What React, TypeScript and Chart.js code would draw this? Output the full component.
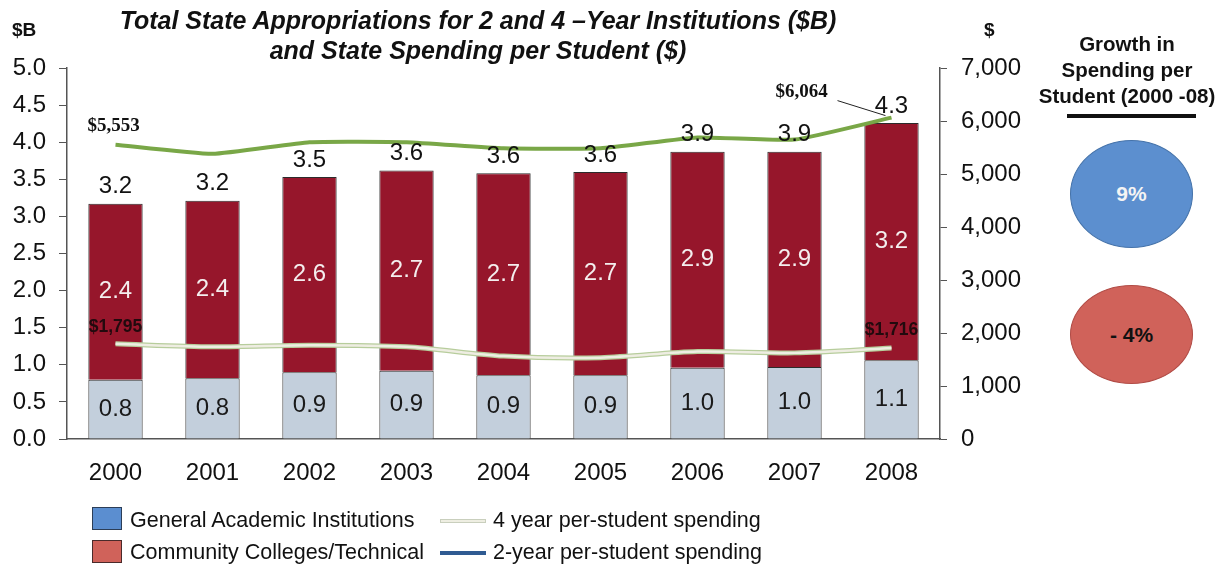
import React, { useEffect, useRef } from "react";
import { Chart, registerables } from "chart.js";

Chart.register(...registerables);

const years = ["2000", "2001", "2002", "2003", "2004", "2005", "2006", "2007", "2008"];
const generalAcademic = [0.8, 0.82, 0.9, 0.92, 0.86, 0.86, 0.96, 0.97, 1.06];
const communityColleges = [2.37, 2.39, 2.63, 2.7, 2.72, 2.74, 2.91, 2.9, 3.2];
const fourYearPerStudent = [1795, 1742, 1770, 1740, 1565, 1535, 1650, 1625, 1716];
const twoYearPerStudent = [5553, 5380, 5600, 5600, 5485, 5485, 5690, 5650, 6064];
const leftTicks = [0, 0.5, 1, 1.5, 2, 2.5, 3, 3.5, 4, 4.5, 5];
const rightTicks = [0, 1000, 2000, 3000, 4000, 5000, 6000, 7000];
const growthLabels = ["9%", "- 4%"];

const fmtMoney = (v: number) => "$" + v.toLocaleString("en-US");

const labelPlugin = {
  id: "labels",
  afterDatasetsDraw(chart: any) {
    const ctx = chart.ctx;
    const ga = chart.getDatasetMeta(0);
    const cc = chart.getDatasetMeta(1);
    const two = chart.getDatasetMeta(2);
    const four = chart.getDatasetMeta(4);
    const yL = chart.scales.y;
    ctx.save();
    ctx.textAlign = "center";
    ctx.textBaseline = "middle";
    ctx.font = "24px Arial, 'Liberation Sans', sans-serif";
    years.forEach((_, i) => {
      const gb = ga.data[i];
      const cb = cc.data[i];
      ctx.fillStyle = "#1a1a1a";
      ctx.fillText(generalAcademic[i].toFixed(1), gb.x, (gb.y + gb.base) / 2);
      ctx.fillStyle = "#f4eeee";
      ctx.fillText(communityColleges[i].toFixed(1), cb.x, (cb.y + cb.base) / 2);
      const total = generalAcademic[i] + communityColleges[i];
      ctx.fillStyle = "#111";
      ctx.fillText(total.toFixed(1), cb.x, yL.getPixelForValue(total) - 17);
    });
    // line end labels
    const p0 = two.data[0];
    const p8 = two.data[8];
    ctx.font = "bold 19px 'Liberation Serif', 'Times New Roman', serif";
    ctx.fillStyle = "#111";
    ctx.fillText(fmtMoney(twoYearPerStudent[0]), p0.x - 2, p0.y - 19);
    ctx.fillText(fmtMoney(twoYearPerStudent[8]), p8.x - 90, p8.y - 26);
    ctx.strokeStyle = "#222";
    ctx.lineWidth = 1;
    ctx.beginPath();
    ctx.moveTo(p8.x - 54, p8.y - 17);
    ctx.lineTo(p8.x - 6, p8.y - 2);
    ctx.stroke();
    const f0 = four.data[0];
    const f8 = four.data[8];
    ctx.font = "bold 17.5px Arial, 'Liberation Sans', sans-serif";
    ctx.fillStyle = "#220a0e";
    ctx.fillText(fmtMoney(fourYearPerStudent[0]), f0.x, f0.y - 17);
    ctx.fillText(fmtMoney(fourYearPerStudent[8]), f8.x, f8.y - 18);
    ctx.restore();
  },
};

export default function App() {
  const ref = useRef<HTMLCanvasElement | null>(null);
  useEffect(() => {
    if (!ref.current) return;
    const chart = new Chart(ref.current, {
      type: "bar",
      data: {
        labels: years,
        datasets: [
          {
            type: "bar",
            label: "General Academic Institutions",
            data: generalAcademic,
            backgroundColor: "#c3cfdc",
            borderColor: "#2b2b2b",
            borderWidth: 1,
            yAxisID: "y",
            stack: "s",
            order: 3,
            barPercentage: 0.56,
            categoryPercentage: 1,
          },
          {
            type: "bar",
            label: "Community Colleges/Technical",
            data: communityColleges,
            backgroundColor: "#96162b",
            borderColor: "#2b2b2b",
            borderWidth: 1,
            yAxisID: "y",
            stack: "s",
            order: 3,
            barPercentage: 0.56,
            categoryPercentage: 1,
          },
          {
            type: "line",
            label: "2-year per-student spending",
            data: twoYearPerStudent,
            borderColor: "#79a747",
            borderWidth: 4,
            pointRadius: 0,
            tension: 0.15,
            yAxisID: "y1",
            order: 1,
          },
          {
            type: "line",
            label: "4 year outline",
            data: fourYearPerStudent,
            borderColor: "#b7cd9c",
            borderWidth: 5,
            pointRadius: 0,
            tension: 0.3,
            yAxisID: "y1",
            order: 2,
          },
          {
            type: "line",
            label: "4 year per-student spending",
            data: fourYearPerStudent,
            borderColor: "#eeede2",
            borderWidth: 2.5,
            pointRadius: 0,
            tension: 0.3,
            yAxisID: "y1",
            order: 1,
          },
        ],
      },
      options: {
        animation: false,
        responsive: false,
        layout: { padding: { left: 0, right: 0, top: 68, bottom: 0 } },
        plugins: {
          legend: { display: false },
          tooltip: { enabled: false },
          title: { display: false },
        },
        scales: {
          x: {
            stacked: true,
            grid: { display: false, drawTicks: false },
            border: { display: true, color: "#555", width: 1.5 },
            ticks: {
              color: "#111",
              padding: 20,
              font: { size: 24, family: "Arial, 'Liberation Sans', sans-serif" },
            },
            afterFit: (s: any) => {
              s.height = 567 - 439;
            },
          },
          y: {
            stacked: true,
            position: "left",
            min: 0,
            max: 5,
            afterBuildTicks: (s: any) => {
              s.ticks = leftTicks.map((v) => ({ value: v }));
            },
            grid: { display: true, drawOnChartArea: false, tickLength: 8, color: "#555" },
            border: { display: true, color: "#555", width: 1.5 },
            ticks: {
              color: "#111",
              padding: 13,
              font: { size: 24, family: "Arial, 'Liberation Sans', sans-serif" },
              callback: (v: any) => Number(v).toFixed(1),
            },
            afterFit: (s: any) => {
              s.width = 67;
            },
          },
          y1: {
            position: "right",
            min: 0,
            max: 7000,
            afterBuildTicks: (s: any) => {
              s.ticks = rightTicks.map((v) => ({ value: v }));
            },
            grid: { display: true, drawOnChartArea: false, tickLength: 7, color: "#555" },
            border: { display: true, color: "#555", width: 1.5 },
            ticks: {
              color: "#111",
              padding: 14,
              font: { size: 24, family: "Arial, 'Liberation Sans', sans-serif" },
              callback: (v: any) => Number(v).toLocaleString("en-US"),
            },
            afterFit: (s: any) => {
              s.width = 1230 - 940;
            },
          },
        },
      },
      plugins: [labelPlugin],
    });
    return () => chart.destroy();
  }, []);

  const font = "Arial, 'Liberation Sans', sans-serif";
  const abs = (s: React.CSSProperties): React.CSSProperties => ({ position: "absolute", ...s });
  const legendText: React.CSSProperties = { fontFamily: font, fontSize: 21.5, lineHeight: "25px", color: "#111", whiteSpace: "nowrap" };

  return (
    <div style={{ position: "absolute", left: 0, top: 0, width: 1230, height: 567, background: "#fff", overflow: "hidden" }}>
      <canvas ref={ref} width={1230} height={567} style={{ position: "absolute", left: 0, top: 0 }} />
      <div
        style={abs({
          left: 78,
          top: 5,
          width: 800,
          textAlign: "center",
          fontFamily: font,
          fontWeight: "bold",
          fontStyle: "italic",
          fontSize: 25,
          lineHeight: "30px",
          color: "#111",
          whiteSpace: "nowrap",
        })}
      >
        Total State Appropriations for 2 and 4 –Year Institutions ($B)
        <br />
        and State Spending per Student ($)
      </div>
      <div style={abs({ left: 12, top: 19, fontFamily: font, fontWeight: "bold", fontSize: 19, color: "#111" })}>$B</div>
      <div style={abs({ left: 984, top: 19, fontFamily: font, fontWeight: "bold", fontSize: 19, color: "#111" })}>$</div>

      <div
        style={abs({
          left: 1027,
          top: 31,
          width: 200,
          textAlign: "center",
          fontFamily: font,
          fontWeight: "bold",
          fontSize: 20.5,
          lineHeight: "26px",
          color: "#111",
          whiteSpace: "nowrap",
        })}
      >
        Growth in
        <br />
        Spending per
        <br />
        Student (2000 -08)
      </div>
      <div style={abs({ left: 1067, top: 114, width: 129, height: 4, background: "#111" })} />
      <div
        style={abs({
          left: 1070,
          top: 140,
          width: 123,
          height: 108,
          borderRadius: "50%",
          background: "#5c8fcf",
          border: "1.5px solid #4573aa",
          boxSizing: "border-box",
          display: "flex",
          alignItems: "center",
          justifyContent: "center",
          fontFamily: font,
          fontWeight: "bold",
          fontSize: 21,
          color: "#f4f4f4",
        })}
      >
        {growthLabels[0]}
      </div>
      <div
        style={abs({
          left: 1070,
          top: 285,
          width: 123,
          height: 99,
          borderRadius: "50%",
          background: "#d0625a",
          border: "1.5px solid #b14c46",
          boxSizing: "border-box",
          display: "flex",
          alignItems: "center",
          justifyContent: "center",
          fontFamily: font,
          fontWeight: "bold",
          fontSize: 21,
          color: "#111",
        })}
      >
        {growthLabels[1]}
      </div>

      {/* legend */}
      <div style={abs({ left: 92, top: 507, width: 30, height: 23, background: "#5b8ed0", border: "1.5px solid #2c3e57", boxSizing: "border-box" })} />
      <div style={abs({ left: 130, top: 508, ...legendText })}>General Academic Institutions</div>
      <div style={abs({ left: 92, top: 540, width: 30, height: 23, background: "#d0625a", border: "1.5px solid #4a2a2a", boxSizing: "border-box" })} />
      <div style={abs({ left: 130, top: 540, ...legendText })}>Community Colleges/Technical</div>
      <div style={abs({ left: 440, top: 519, width: 46, height: 4, background: "#eeeee2", border: "1px solid #c9cfbd", boxSizing: "border-box" })} />
      <div style={abs({ left: 493, top: 508, ...legendText })}>4 year per-student spending</div>
      <div style={abs({ left: 440, top: 551, width: 46, height: 4, background: "#2f5b92" })} />
      <div style={abs({ left: 493, top: 540, ...legendText })}>2-year per-student spending</div>
    </div>
  );
}
